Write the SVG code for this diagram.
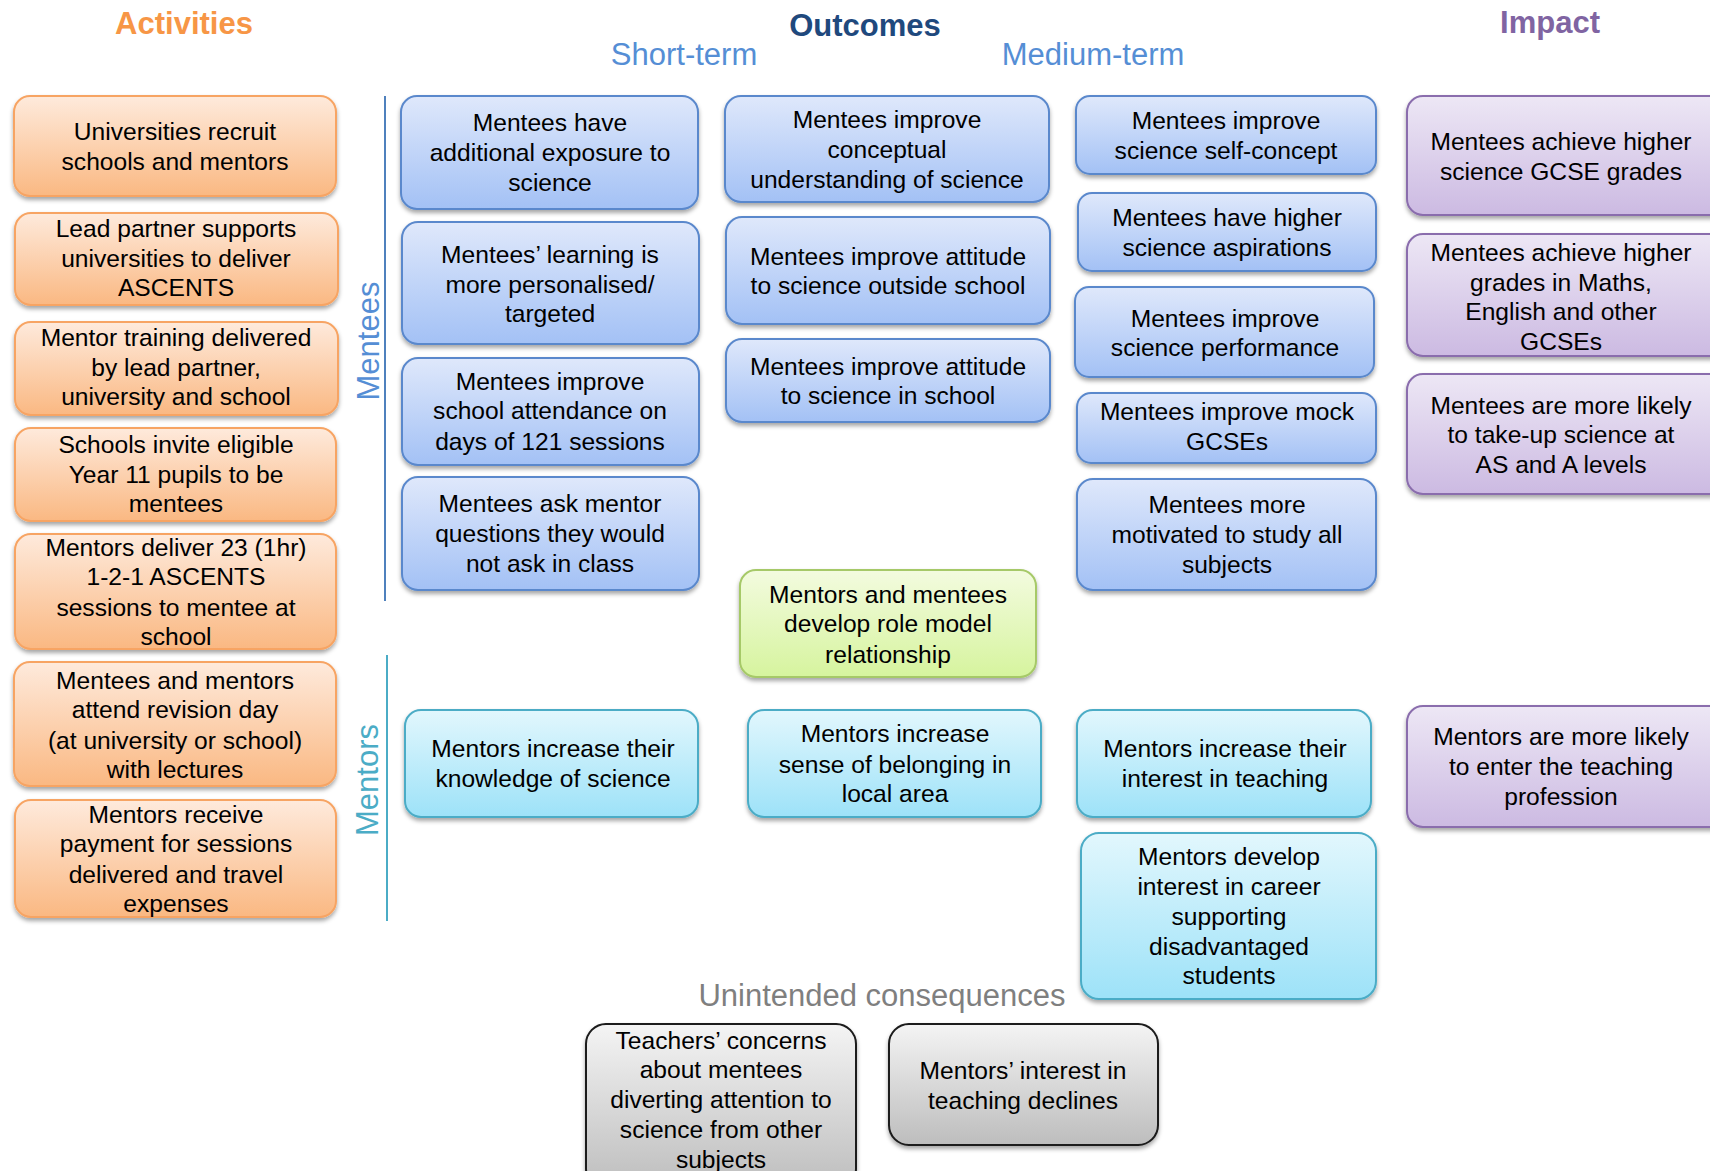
<svg xmlns="http://www.w3.org/2000/svg" width="1710" height="1171" viewBox="0 0 1710 1171">
<defs>
<linearGradient id="gO" x1="0" y1="0" x2="0" y2="1"><stop offset="0" stop-color="#FEEADC"/><stop offset="1" stop-color="#FAB882"/></linearGradient>
<linearGradient id="gB" x1="0" y1="0" x2="0" y2="1"><stop offset="0" stop-color="#DFE8FB"/><stop offset="1" stop-color="#A3C1F5"/></linearGradient>
<linearGradient id="gC" x1="0" y1="0" x2="0" y2="1"><stop offset="0" stop-color="#E2F7FD"/><stop offset="1" stop-color="#9DE2F8"/></linearGradient>
<linearGradient id="gG" x1="0" y1="0" x2="0" y2="1"><stop offset="0" stop-color="#F3FBDF"/><stop offset="1" stop-color="#D6F49E"/></linearGradient>
<linearGradient id="gP" x1="0" y1="0" x2="0" y2="1"><stop offset="0" stop-color="#EDE7F5"/><stop offset="1" stop-color="#CCBAE2"/></linearGradient>
<linearGradient id="gK" x1="0" y1="0" x2="0" y2="1"><stop offset="0" stop-color="#F4F4F4"/><stop offset="1" stop-color="#BDBDBD"/></linearGradient>
<filter id="sh" x="-10%" y="-10%" width="120%" height="130%"><feDropShadow dx="0" dy="3" stdDeviation="2" flood-color="#000" flood-opacity="0.35"/></filter>
</defs>
<style>
rect.b{stroke-width:2;filter:url(#sh)}
.o{fill:url(#gO);stroke:#F7A463}
.bl{fill:url(#gB);stroke:#5A88CC}
.cy{fill:url(#gC);stroke:#4BACC6}
.gr{fill:url(#gG);stroke:#A6C968}
.pu{fill:url(#gP);stroke:#8A6DAD}
.gy{fill:url(#gK);stroke:#1A1A1A;stroke-width:1.6}
text.t{font-family:"Liberation Sans",Arial,sans-serif;font-size:24.6px;fill:#000;text-anchor:middle}
text.h{font-family:"Liberation Sans",Arial,sans-serif;font-size:31px;text-anchor:middle}
</style>

<g id="titles">
<text class="h" x="184" y="34" font-weight="bold" fill="#F79646">Activities</text>
<text class="h" x="865" y="36" font-weight="bold" fill="#1F497D">Outcomes</text>
<text class="h" x="684" y="65" fill="#558ED5">Short-term</text>
<text class="h" x="1093" y="65" fill="#558ED5">Medium-term</text>
<text class="h" x="1550" y="33" font-weight="bold" fill="#8064A2">Impact</text>
<text class="h" x="882" y="1006" fill="#7F7F7F">Unintended consequences</text>
<text class="h" transform="translate(379,341) rotate(-90)" fill="#558ED5">Mentees</text>
<text class="h" transform="translate(378,780) rotate(-90)" fill="#4BACC6">Mentors</text>
</g>

<g id="connectors">
<line x1="385" y1="96" x2="385" y2="601" stroke="#4F81BD" stroke-width="2"/>
<line x1="387" y1="655" x2="387" y2="921" stroke="#4BACC6" stroke-width="2"/>
</g>

<!-- Activities -->
<g id="a1"><rect class="b o" x="14" y="96" width="322" height="100" rx="16"/><text class="t"><tspan x="175" y="140">Universities recruit</tspan><tspan x="175" y="169.5">schools and mentors</tspan></text></g>
<g id="a2"><rect class="b o" x="15" y="213" width="323" height="92" rx="16"/><text class="t"><tspan x="176" y="237">Lead partner supports</tspan><tspan x="176" y="266.5">universities to deliver</tspan><tspan x="176" y="296">ASCENTS</tspan></text></g>
<g id="a3"><rect class="b o" x="15" y="322" width="323" height="93" rx="16"/><text class="t"><tspan x="176" y="346">Mentor training delivered</tspan><tspan x="176" y="375.5">by lead partner,</tspan><tspan x="176" y="405">university and school</tspan></text></g>
<g id="a4"><rect class="b o" x="15" y="428" width="321" height="93" rx="16"/><text class="t"><tspan x="176" y="453">Schools invite eligible</tspan><tspan x="176" y="482.5">Year 11 pupils to be</tspan><tspan x="176" y="512">mentees</tspan></text></g>
<g id="a5"><rect class="b o" x="15" y="534" width="321" height="115" rx="16"/><text class="t"><tspan x="176" y="555.5">Mentors deliver 23 (1hr)</tspan><tspan x="176" y="585">1-2-1 ASCENTS</tspan><tspan x="176" y="615.5">sessions to mentee at</tspan><tspan x="176" y="645">school</tspan></text></g>
<g id="a6"><rect class="b o" x="14" y="662" width="322" height="124" rx="16"/><text class="t"><tspan x="175" y="688.5">Mentees and mentors</tspan><tspan x="175" y="718">attend revision day</tspan><tspan x="175" y="748.5">(at university or school)</tspan><tspan x="175" y="778">with lectures</tspan></text></g>
<g id="a7"><rect class="b o" x="15" y="800" width="321" height="117" rx="16"/><text class="t"><tspan x="176" y="822.5">Mentors receive</tspan><tspan x="176" y="852">payment for sessions</tspan><tspan x="176" y="882.5">delivered and travel</tspan><tspan x="176" y="912">expenses</tspan></text></g>

<!-- Short-term -->
<g id="s1"><rect class="b bl" x="401" y="96" width="297" height="113" rx="16"/><text class="t"><tspan x="550" y="131">Mentees have</tspan><tspan x="550" y="160.5">additional exposure to</tspan><tspan x="550" y="191">science</tspan></text></g>
<g id="s2"><rect class="b bl" x="402" y="222" width="297" height="122" rx="16"/><text class="t"><tspan x="550" y="263">Mentees’ learning is</tspan><tspan x="550" y="292.5">more personalised/</tspan><tspan x="550" y="322">targeted</tspan></text></g>
<g id="s3"><rect class="b bl" x="402" y="358" width="297" height="107" rx="16"/><text class="t"><tspan x="550" y="389.5">Mentees improve</tspan><tspan x="550" y="419">school attendance on</tspan><tspan x="550" y="449.5">days of 121 sessions</tspan></text></g>
<g id="s4"><rect class="b bl" x="402" y="477" width="297" height="113" rx="16"/><text class="t"><tspan x="550" y="512">Mentees ask mentor</tspan><tspan x="550" y="542">questions they would</tspan><tspan x="550" y="572">not ask in class</tspan></text></g>

<!-- Column 2 -->
<g id="c1"><rect class="b bl" x="725" y="96" width="324" height="106" rx="16"/><text class="t"><tspan x="887" y="128">Mentees improve</tspan><tspan x="887" y="157.5">conceptual</tspan><tspan x="887" y="188">understanding of science</tspan></text></g>
<g id="c2"><rect class="b bl" x="726" y="217" width="324" height="107" rx="16"/><text class="t"><tspan x="888" y="264.5">Mentees improve attitude</tspan><tspan x="888" y="294">to science outside school</tspan></text></g>
<g id="c3"><rect class="b bl" x="726" y="339" width="324" height="83" rx="16"/><text class="t"><tspan x="888" y="374.5">Mentees improve attitude</tspan><tspan x="888" y="404">to science in school</tspan></text></g>
<g id="g1"><rect class="b gr" x="740" y="570" width="296" height="107" rx="16"/><text class="t"><tspan x="888" y="602.5">Mentors and mentees</tspan><tspan x="888" y="632">develop role model</tspan><tspan x="888" y="662.5">relationship</tspan></text></g>

<!-- Medium-term -->
<g id="m1"><rect class="b bl" x="1076" y="96" width="300" height="78" rx="14"/><text class="t"><tspan x="1226" y="129">Mentees improve</tspan><tspan x="1226" y="158.5">science self-concept</tspan></text></g>
<g id="m2"><rect class="b bl" x="1078" y="193" width="298" height="78" rx="14"/><text class="t"><tspan x="1227" y="226">Mentees have higher</tspan><tspan x="1227" y="255.5">science aspirations</tspan></text></g>
<g id="m3"><rect class="b bl" x="1075" y="287" width="299" height="90" rx="14"/><text class="t"><tspan x="1225" y="326.5">Mentees improve</tspan><tspan x="1225" y="356">science performance</tspan></text></g>
<g id="m4"><rect class="b bl" x="1077" y="393" width="299" height="70" rx="14"/><text class="t"><tspan x="1227" y="420">Mentees improve mock</tspan><tspan x="1227" y="449.5">GCSEs</tspan></text></g>
<g id="m5"><rect class="b bl" x="1077" y="479" width="299" height="111" rx="16"/><text class="t"><tspan x="1227" y="513">Mentees more</tspan><tspan x="1227" y="542.5">motivated to study all</tspan><tspan x="1227" y="573">subjects</tspan></text></g>

<!-- Impact -->
<g id="i1"><rect class="b pu" x="1407" y="96" width="330" height="119" rx="16"/><text class="t"><tspan x="1561" y="150">Mentees achieve higher</tspan><tspan x="1561" y="179.5">science GCSE grades</tspan></text></g>
<g id="i2"><rect class="b pu" x="1407" y="234" width="330" height="122" rx="16"/><text class="t"><tspan x="1561" y="261">Mentees achieve higher</tspan><tspan x="1561" y="290.5">grades in Maths,</tspan><tspan x="1561" y="320">English and other</tspan><tspan x="1561" y="349.5">GCSEs</tspan></text></g>
<g id="i3"><rect class="b pu" x="1407" y="374" width="330" height="120" rx="16"/><text class="t"><tspan x="1561" y="413.5">Mentees are more likely</tspan><tspan x="1561" y="443">to take-up science at</tspan><tspan x="1561" y="472.5">AS and A levels</tspan></text></g>
<g id="i4"><rect class="b pu" x="1407" y="706" width="330" height="121" rx="16"/><text class="t"><tspan x="1561" y="745">Mentors are more likely</tspan><tspan x="1561" y="774.5">to enter the teaching</tspan><tspan x="1561" y="805">profession</tspan></text></g>

<!-- Mentors row -->
<g id="r1"><rect class="b cy" x="405" y="710" width="293" height="107" rx="16"/><text class="t"><tspan x="553" y="757">Mentors increase their</tspan><tspan x="553" y="786.5">knowledge of science</tspan></text></g>
<g id="r2"><rect class="b cy" x="748" y="710" width="293" height="107" rx="16"/><text class="t"><tspan x="895" y="742">Mentors increase</tspan><tspan x="895" y="772.5">sense of belonging in</tspan><tspan x="895" y="802">local area</tspan></text></g>
<g id="r3"><rect class="b cy" x="1077" y="710" width="294" height="107" rx="16"/><text class="t"><tspan x="1225" y="757">Mentors increase their</tspan><tspan x="1225" y="786.5">interest in teaching</tspan></text></g>
<g id="r4"><rect class="b cy" x="1081" y="833" width="295" height="166" rx="18"/><text class="t"><tspan x="1229" y="865">Mentors develop</tspan><tspan x="1229" y="894.5">interest in career</tspan><tspan x="1229" y="925">supporting</tspan><tspan x="1229" y="954.5">disadvantaged</tspan><tspan x="1229" y="984">students</tspan></text></g>

<!-- Unintended -->
<g id="u1"><rect class="b gy" x="586" y="1024" width="270" height="165" rx="20"/><text class="t"><tspan x="721" y="1048.5">Teachers’ concerns</tspan><tspan x="721" y="1078">about mentees</tspan><tspan x="721" y="1108">diverting attention to</tspan><tspan x="721" y="1138">science from other</tspan><tspan x="721" y="1167.5">subjects</tspan></text></g>
<g id="u2"><rect class="b gy" x="889" y="1024" width="269" height="121" rx="20"/><text class="t"><tspan x="1023" y="1079">Mentors’ interest in</tspan><tspan x="1023" y="1108.5">teaching declines</tspan></text></g>
</svg>
